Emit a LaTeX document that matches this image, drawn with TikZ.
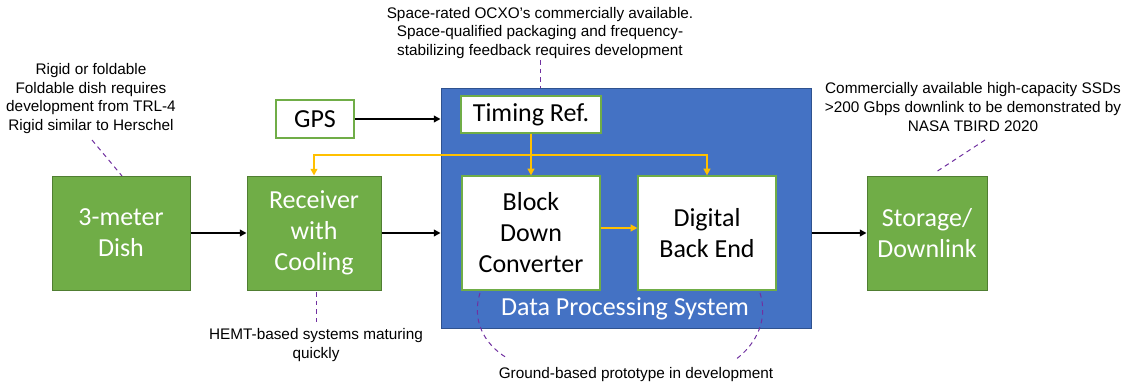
\documentclass[tikz,border=0pt]{standalone}
\usepackage{fontspec}
\setmainfont{Liberation Sans}
\newfontfamily\boxfont{Carlito}
\usetikzlibrary{arrows.meta}
\definecolor{gfill}{HTML}{70AD47}
\definecolor{gline}{HTML}{507E32}
\definecolor{bfill}{HTML}{4472C4}
\definecolor{bline}{HTML}{2F528F}
\definecolor{yel}{HTML}{FFC000}
\definecolor{pur}{HTML}{7030A0}
\tikzset{
  gbox/.style={draw=gline, fill=gfill, line width=0.75pt, text=white, font=\boxfont\fontsize{19.5}{23.2}\selectfont, align=center, inner sep=0pt},
  wbox/.style={draw=gfill, fill=white, line width=0.9pt, text=black, font=\boxfont\fontsize{19.5}{23.2}\selectfont, align=center, inner sep=0pt},
  note/.style={font=\fontsize{11.5}{14}\selectfont, align=center, text=black, inner sep=0pt},
  conn/.style={line width=1.6pt, -{Triangle[length=5pt,width=5pt]}},
  yconn/.style={draw=yel, line width=1.7pt, -{Triangle[length=5pt,width=5pt]}},
  lead/.style={draw=pur, line width=0.75pt, dash pattern=on 3.5pt off 3pt}
}
\begin{document}
\begin{tikzpicture}[x=0.75pt, y=-0.75pt]
\useasboundingbox (0,0) rectangle (1141,385);
% container
\node[draw=bline, fill=bfill, line width=0.75pt, minimum width=277.5pt, minimum height=180pt, inner sep=0pt] (blue) at (626,208) {};
\node[text=white, font=\boxfont\fontsize{19.5}{23.2}\selectfont] (dps) at (625,309) {Data Processing System};
% boxes
\node[gbox, minimum width=103.5pt, minimum height=85.5pt] (dish) at (121,233) {3-meter\\Dish};
\node[gbox, minimum width=100.5pt, minimum height=85.5pt] (rec) at (314,233) {Receiver\\with\\Cooling};
\node[wbox, minimum width=58.5pt, minimum height=28.5pt] (gps) at (315,119) {GPS};
\node[wbox, minimum width=105pt, minimum height=27.75pt] (tim) at (531,114.5) {Timing Ref.};
\node[wbox, minimum width=103.5pt, minimum height=85.5pt] (bdc) at (531,233) {Block\\Down\\Converter};
\node[wbox, minimum width=103.5pt, minimum height=85.5pt] (dbe) at (707,233) {Digital\\Back End};
\node[gbox, minimum width=90pt, minimum height=85.5pt] (sto) at (927,233) {Storage/\\Downlink};
% black connectors
\draw[conn] (dish.east) -- (rec.west);
\draw[conn] (rec.east) -- (rec.east -| blue.west);
\draw[conn] (gps.east) -- (gps.east -| blue.west);
\draw[conn] (sto.west -| blue.east) -- (sto.west);
% yellow connectors
\coordinate (yj) at (531,155);
\coordinate (ya) at (0,228);
\draw[yconn] (tim.south) -- (bdc.north);
\draw[yconn] (yj) -| (rec.north);
\draw[yconn] (yj) -| (dbe.north);
\draw[yconn] (bdc.east |- ya) -- (dbe.west |- ya);
% notes
\node[note] (n1) at (91,98.5) {Rigid or foldable\\Foldable dish requires\\development from TRL-4\\Rigid similar to Herschel};
\node[note] (n2) at (540,33) {Space-rated OCXO’s commercially available.\\Space-qualified packaging and frequency-\\stabilizing feedback requires development};
\node[note] (n3) at (973,107) {Commercially available high-capacity SSDs\\>200 Gbps downlink to be demonstrated by\\NASA TBIRD 2020};
\node[note] (n4) at (316,345) {HEMT-based systems maturing\\quickly};
\node[note] (n5) at (636,375) {Ground-based prototype in development};
% leader lines
\coordinate (l1a) at (92,140);
\coordinate (l1b) at (122,176);
\draw[lead] (l1a) -- (l1b);
\coordinate (l2a) at (540,60);
\draw[lead] (l2a) -- (l2a |- blue.north);
\coordinate (l3a) at (985,140);
\coordinate (l3b) at (936,172);
\draw[lead] (l3a) -- (l3b);
\coordinate (l4a) at (316,292);
\coordinate (l4b) at (316,322);
\draw[lead] (l4a) -- (l4b);
\coordinate (l5a) at (480,293);
\coordinate (l5b) at (507,358);
\coordinate (l5c) at (760,293);
\coordinate (l5d) at (735,360);
\draw[lead] (l5a) .. controls (472,318) and (482,343) .. (l5b);
\draw[lead] (l5c) .. controls (768,318) and (758,343) .. (l5d);
\end{tikzpicture}
\end{document}
